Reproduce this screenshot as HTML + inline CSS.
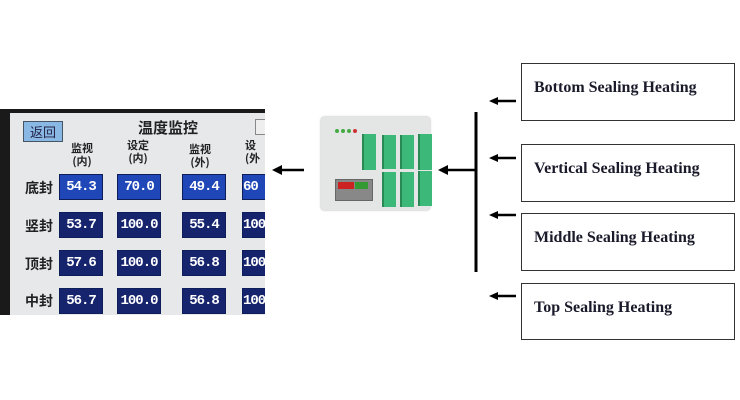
<!DOCTYPE html>
<html><head><meta charset="utf-8"><style>
html,body{margin:0;padding:0;background:#fff;width:740px;height:400px;overflow:hidden;position:relative}
.a{position:absolute}
.scr{font-family:"Liberation Sans","Noto Sans CJK SC",sans-serif}
.cell{position:absolute;background:#1f47b8;color:#fff;font:bold 14px "Liberation Mono",monospace;letter-spacing:-1px;text-align:center;line-height:24px;height:24px;border:1px solid #0d1e5a;overflow:hidden;white-space:nowrap}
.dk{background:#16246e}
.rl{position:absolute;font:bold 14px "Noto Sans CJK SC",sans-serif;color:#222}
.hd{position:absolute;font:bold 11px "Noto Sans CJK SC",sans-serif;color:#222;text-align:center;line-height:13px}
.box{position:absolute;border:1.5px solid #333;background:#fff;font:bold 16px "Liberation Serif",serif;color:#1a1a2a;box-sizing:border-box}
.box span{position:absolute;left:12px;top:15px;white-space:nowrap}
.tb{position:absolute;width:12px;background:#3cb878;border-left:2px solid #2a8a55}
</style></head><body>
<div class="a" style="left:0;top:109px;width:265px;height:206px;background:#1a1a1a"></div>
<div class="a scr" style="left:10px;top:113px;width:255px;height:202px;background:#e6e8ea"></div>
<div class="a" style="left:23px;top:121px;width:38px;height:19px;background:#8ab8e4;border:1px solid #456;font:13px 'Noto Sans CJK SC',sans-serif;line-height:19px;text-align:center;color:#224">返回</div>
<div class="a" style="left:138px;top:117px;font:bold 15px 'Noto Sans CJK SC',sans-serif;color:#222">温度监控</div>
<div class="a" style="left:255px;top:119px;width:10px;height:14px;border:1px solid #888;background:#eee"></div>
<div class="hd" style="left:62px;top:142px;width:40px">监视<br>(内)</div>
<div class="hd" style="left:118px;top:139px;width:40px">设定<br>(内)</div>
<div class="hd" style="left:180px;top:143px;width:40px">监视<br>(外)</div>
<div class="hd" style="left:245px;top:139px;width:30px;text-align:left">设<br>(外</div>
<div class="rl" style="left:25px;top:178px">底封</div>
<div class="rl" style="left:25px;top:216px">竖封</div>
<div class="rl" style="left:25px;top:254px">顶封</div>
<div class="rl" style="left:25px;top:291px">中封</div>
<div class="cell" style="left:59px;top:174px;width:42px">54.3</div>
<div class="cell" style="left:117px;top:174px;width:42px">70.0</div>
<div class="cell" style="left:182px;top:174px;width:42px">49.4</div>
<div class="cell" style="left:242px;top:174px;width:30px;text-align:left">60</div>
<div class="cell dk" style="left:59px;top:212px;width:42px">53.7</div>
<div class="cell dk" style="left:117px;top:212px;width:42px">100.0</div>
<div class="cell dk" style="left:182px;top:212px;width:42px">55.4</div>
<div class="cell dk" style="left:242px;top:212px;width:30px;text-align:left">100</div>
<div class="cell dk" style="left:59px;top:250px;width:42px">57.6</div>
<div class="cell dk" style="left:117px;top:250px;width:42px">100.0</div>
<div class="cell dk" style="left:182px;top:250px;width:42px">56.8</div>
<div class="cell dk" style="left:242px;top:250px;width:30px;text-align:left">100</div>
<div class="cell dk" style="left:59px;top:288px;width:42px">56.7</div>
<div class="cell dk" style="left:117px;top:288px;width:42px">100.0</div>
<div class="cell dk" style="left:182px;top:288px;width:42px">56.8</div>
<div class="cell dk" style="left:242px;top:288px;width:30px;text-align:left">100.</div>
<div class="a" style="left:265px;top:100px;width:10px;height:220px;background:#fff"></div>
<div class="a" style="left:321px;top:117px;width:109px;height:93px;background:#e4e6e6;border-radius:3px;box-shadow:0 0 2px #aaa"></div>
<div class="a" style="left:335px;top:129px;width:4px;height:4px;border-radius:50%;background:#4a4"></div>
<div class="a" style="left:341px;top:129px;width:4px;height:4px;border-radius:50%;background:#4a4"></div>
<div class="a" style="left:347px;top:129px;width:4px;height:4px;border-radius:50%;background:#4a4"></div>
<div class="a" style="left:353px;top:129px;width:4px;height:4px;border-radius:50%;background:#c33"></div>
<div class="tb" style="left:362px;top:134px;height:36px"></div>
<div class="tb" style="left:382px;top:135px;height:34px"></div>
<div class="tb" style="left:400px;top:135px;height:34px"></div>
<div class="tb" style="left:418px;top:134px;height:36px"></div>
<div class="tb" style="left:382px;top:172px;height:35px"></div>
<div class="tb" style="left:400px;top:172px;height:35px"></div>
<div class="tb" style="left:418px;top:171px;height:35px"></div>
<div class="a" style="left:335px;top:179px;width:36px;height:20px;background:#888;border:1px solid #666"></div>
<div class="a" style="left:338px;top:182px;width:16px;height:7px;background:#c22"></div>
<div class="a" style="left:355px;top:182px;width:13px;height:7px;background:#393"></div>
<svg class="a" style="left:0;top:0" width="740" height="400">
<g stroke="#000" stroke-width="2.5" fill="none">
<line x1="304" y1="170" x2="280" y2="170"/>
<line x1="476" y1="170" x2="446" y2="170"/>
<line x1="476" y1="112" x2="476" y2="272" stroke-width="3"/>
<line x1="516" y1="101" x2="496" y2="101"/>
<line x1="516" y1="158" x2="496" y2="158"/>
<line x1="516" y1="215" x2="496" y2="215"/>
<line x1="516" y1="296" x2="496" y2="296"/>
</g>
<g fill="#000">
<polygon points="272,170 282,165 282,175"/>
<polygon points="438,170 448,165 448,175"/>
<polygon points="489,101 498,97 498,105"/>
<polygon points="489,158 498,154 498,162"/>
<polygon points="489,215 498,211 498,219"/>
<polygon points="489,296 498,292 498,300"/>
</g>
</svg>
<div class="box" style="left:521px;top:63px;width:214px;height:58px"><span>Bottom Sealing Heating</span></div>
<div class="box" style="left:521px;top:144px;width:214px;height:58px"><span>Vertical Sealing Heating</span></div>
<div class="box" style="left:521px;top:213px;width:214px;height:58px"><span>Middle Sealing Heating</span></div>
<div class="box" style="left:521px;top:283px;width:214px;height:57px"><span>Top Sealing Heating</span></div>
</body></html>
